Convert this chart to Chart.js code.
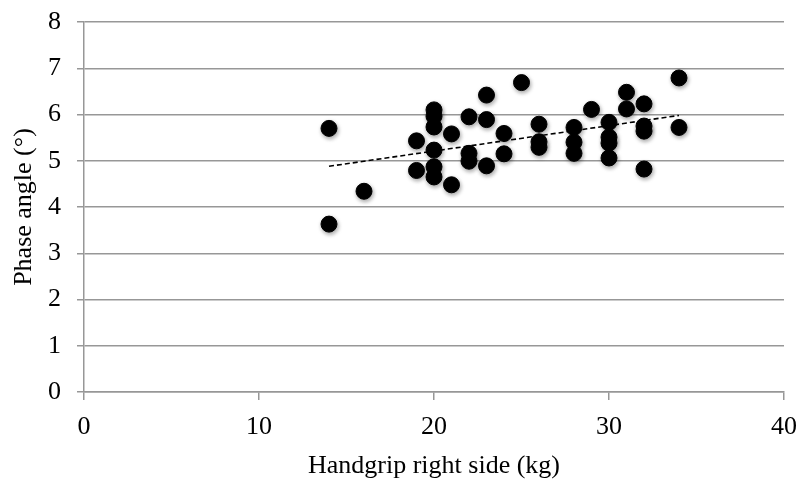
<!DOCTYPE html>
<html lang="en">
<head>
  <meta charset="UTF-8">
  <title>Phase angle vs handgrip</title>
  <script src="https://cdn.jsdelivr.net/npm/chart.js"></script>
  <style>
    html, body { margin: 0; padding: 0; background: #fff; }
    #wrap { width: 800px; height: 482px; }
  </style>
</head>
<body>
  <div id="wrap"><canvas id="grafica" width="800" height="482"></canvas></div>

  <script>
    // handgrip right side (kg) and phase angle (°)
    const handgrip = [
      14, 14, 16, 19, 19,
      20, 20, 20, 20, 20, 20,
      21, 21, 22, 22, 22, 23, 23, 23, 24, 24, 25,
      26, 26, 26, 28, 28, 28, 29,
      30, 30, 30, 30, 31, 31,
      32, 32, 32, 32, 34, 34
    ];
    const phaseAngle = [
      5.70, 3.63, 4.34, 5.43, 4.79,
      6.10, 5.96, 5.73, 5.23, 4.87, 4.65,
      5.58, 4.48, 5.95, 5.16, 4.99, 6.42, 5.89, 4.89, 5.59, 5.15, 6.69,
      5.79, 5.41, 5.29, 5.72, 5.40, 5.16, 6.11,
      5.83, 5.51, 5.38, 5.06, 6.48, 6.12,
      6.23, 5.75, 5.64, 4.82, 6.79, 5.72
    ];
    // dashed trend line end points
    const trendX = [14, 34];
    const trendY = [4.88, 5.98];

    const puntos = handgrip.map((x, i) => ({ x: x, y: phaseAngle[i] }));
    const tendencia = trendX.map((x, i) => ({ x: x, y: trendY[i] }));

    const fuente = "'Liberation Serif', 'DejaVu Serif', serif";
    const gris = '#979797';

    // soft shadow under the markers
    const sombra = {
      id: 'sombra',
      beforeDatasetDraw(chart, args) {
        if (args.index !== 0) return;
        const c = chart.ctx;
        c.save();
        c.shadowColor = 'rgba(0,0,0,0.35)';
        c.shadowBlur = 4;
        c.shadowOffsetX = 1;
        c.shadowOffsetY = 2;
      },
      afterDatasetDraw(chart, args) {
        if (args.index !== 0) return;
        chart.ctx.restore();
      }
    };

    new Chart(document.getElementById('grafica'), {
      type: 'scatter',
      data: {
        datasets: [
          {
            data: puntos,
            backgroundColor: '#000',
            borderColor: '#000',
            pointRadius: 8,
            pointHoverRadius: 8,
            order: 0
          },
          {
            type: 'line',
            data: tendencia,
            borderColor: '#000',
            borderWidth: 1.6,
            borderDash: [5, 3],
            pointRadius: 0,
            fill: false,
            order: 1
          }
        ]
      },
      options: {
        responsive: false,
        animation: false,
        events: [],
        layout: { padding: { top: 22, right: 16, bottom: 0, left: 0 } },
        plugins: {
          legend: { display: false },
          tooltip: { enabled: false }
        },
        scales: {
          x: {
            type: 'linear',
            min: 0,
            max: 40,
            ticks: {
              stepSize: 10,
              color: '#000',
              padding: 12,
              font: { family: fuente, size: 26 }
            },
            grid: { drawOnChartArea: false, drawTicks: true, tickLength: 8, color: gris, lineWidth: 1.5 },
            border: { display: true, color: gris, width: 1.5 },
            title: {
              display: true,
              text: 'Handgrip right side (kg)',
              color: '#000',
              padding: { top: 0, bottom: 0 },
              font: { family: fuente, size: 26 }
            },
            afterFit(scale) {
              scale.height = 90;
              scale.paddingLeft = 0;
              scale.paddingRight = 0;
            }
          },
          y: {
            min: 0,
            max: 8,
            ticks: {
              stepSize: 1,
              color: '#000',
              padding: 16,
              font: { family: fuente, size: 26 }
            },
            grid: { color: gris, lineWidth: 1.5, tickLength: 7 },
            border: { display: true, color: gris, width: 1.5 },
            title: {
              display: true,
              text: 'Phase angle (°)',
              color: '#000',
              padding: { top: 9, bottom: 0 },
              font: { family: fuente, size: 26 }
            },
            afterFit(scale) {
              scale.width = 84;
              scale.paddingTop = 0;
              scale.paddingBottom = 0;
            }
          }
        }
      },
      plugins: [sombra]
    });
  </script>
</body>
</html>
